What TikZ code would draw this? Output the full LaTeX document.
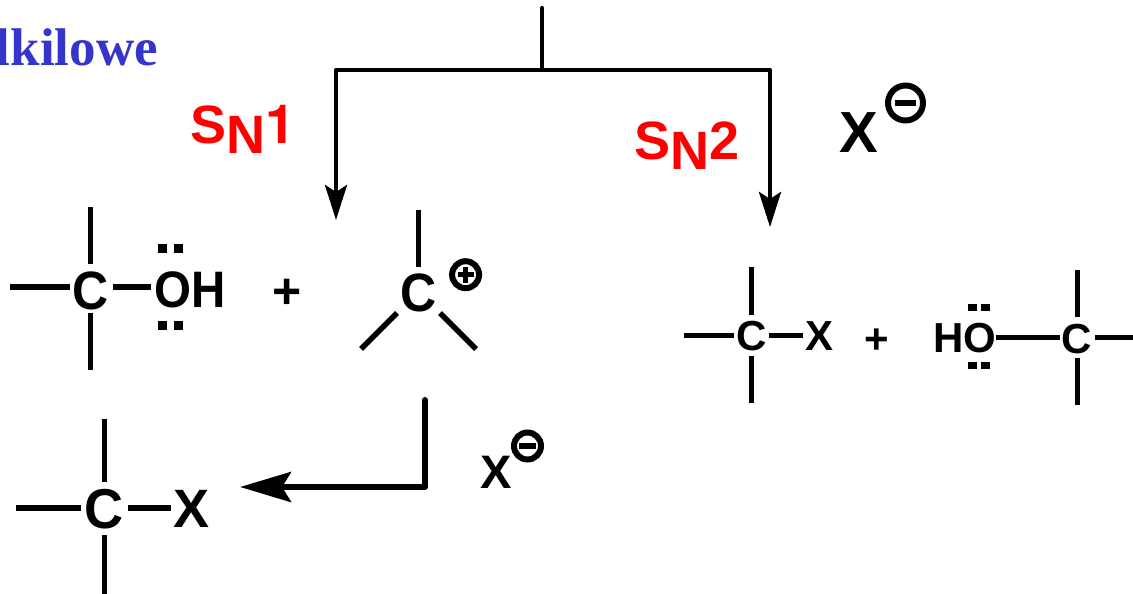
\documentclass[tikz,border=0pt]{standalone}
\usepackage{fontspec}
\setmainfont{Liberation Sans}
\newfontfamily\serifface{Liberation Serif}
\newfontfamily\heros{TeX Gyre Heros}
\usetikzlibrary{arrows.meta}
\definecolor{titleblue}{HTML}{3535CC}
\tikzset{
  x=1pt,y=1pt,
  atomL/.style={inner sep=0pt,font=\fontsize{50}{50}\selectfont\bfseries},
  atomB/.style={inner sep=0pt,font=\fontsize{54}{54}\selectfont\bfseries},
  atomM/.style={inner sep=0pt,font=\fontsize{47}{47}\selectfont\bfseries},
  atomXL/.style={inner sep=0pt,font=\fontsize{58}{58}\selectfont\bfseries},
  atomS/.style={inner sep=0pt,font=\fontsize{42}{42}\selectfont\bfseries},
  mech/.style={inner sep=0pt,anchor=base west,text=red,font=\fontsize{54}{54}\selectfont\bfseries},
  bond/.style={line width=5.5pt,line cap=butt},
  bondS/.style={line width=5pt,line cap=butt},
  thin arrow/.style={line width=4.3pt,line cap=round,line join=round},
  thick arrow/.style={line width=6pt,line cap=round,line join=round},
  lonedot/.style={fill=black,inner sep=0pt,minimum width=9pt,minimum height=8.5pt},
  ring/.style={circle,draw=black,inner sep=0pt},
  bar/.style={fill=black,inner sep=0pt}
}
\begin{document}
\begin{tikzpicture}
\useasboundingbox (0,0) rectangle (1133,-594);
\clip (0,0) rectangle (1133,-594);

% title fragment
\node[inner sep=0pt,anchor=base east,text=titleblue,font=\fontsize{53}{53}\selectfont\serifface\bfseries] (title) at (158,-66) {lkilowe};

% branching arrows
\coordinate (top) at (542,-8);
\coordinate (mid) at (542,-70);
\coordinate (left) at (336,-70);
\coordinate (right) at (770,-70);
\coordinate (ltip) at (336,-220);
\coordinate (rtip) at (770,-227);
\draw[thin arrow] (top) -- (mid);
\draw[thin arrow,-{Stealth[length=35pt,width=22pt,inset=7pt]}] (mid) -- (left) -- (ltip);
\draw[thin arrow,-{Stealth[length=35pt,width=22pt,inset=7pt]}] (mid) -- (right) -- (rtip);

\node[mech] (sn1) at (190,-143) {S\raisebox{-10pt}{N}{\heros\bfseries 1}};
\node[mech] (sn2) at (634,-159) {S\raisebox{-10pt}{N}2};

% X- large
\node[atomXL] (xa) at (858.5,-132.5) {X};
\node[ring,line width=6pt,minimum size=35pt] (ringa) at (905.5,-103) {};
\node[bar,minimum width=21pt,minimum height=6pt] (minusa) at (ringa) {};

% alcohol
\node[atomL,yscale=1.08] (c1) at (91,-291) {C};
\node[atomL,yscale=1.08,font=\fontsize{47.5}{47.5}\selectfont\bfseries] (oh) at (190,-290) {OH};
\coordinate (c1n) at (90.7,-207); \coordinate (c1ni) at (90.7,-264);
\coordinate (c1s) at (90.7,-370); \coordinate (c1si) at (90.7,-313);
\coordinate (c1w) at (10,-287);   \coordinate (c1wi) at (70,-287);
\coordinate (c1e) at (112.5,-287); \coordinate (ohw) at (151,-287);
\draw[bond] (c1n) -- (c1ni);
\draw[bond] (c1si) -- (c1s);
\draw[bond] (c1w) -- (c1wi);
\draw[bond] (c1e) -- (ohw);
\node[lonedot] (d1) at (162.5,-248.5) {};
\node[lonedot] (d2) at (178.5,-248.5) {};
\node[lonedot] (d3) at (162.5,-325.5) {};
\node[lonedot] (d4) at (178.5,-325.5) {};
\node[atomL] (plus1) at (287,-294) {+};

% carbocation
\node[atomL,yscale=1.08] (c2) at (418.6,-293) {C};
\coordinate (c2n) at (418.6,-210); \coordinate (c2ni) at (418.6,-267);
\coordinate (c2a) at (397,-313); \coordinate (c2ae) at (361,-349);
\coordinate (c2b) at (440,-313); \coordinate (c2be) at (476,-349);
\draw[bond] (c2n) -- (c2ni);
\draw[bond] (c2a) -- (c2ae);
\draw[bond] (c2b) -- (c2be);
\node[ring,line width=6pt,minimum size=27pt] (ringp) at (465.6,-274.7) {};
\node[bar,minimum width=16pt,minimum height=5pt] (plusa) at (ringp) {};
\node[bar,minimum width=5pt,minimum height=16pt] (plusb) at (ringp) {};

% bottom arrow
\coordinate (bs) at (425,-400);
\coordinate (bc) at (425,-487);
\coordinate (bt) at (240,-487);
\draw[thick arrow,-{Stealth[length=51pt,width=30pt,inset=9pt]}] (bs) -- (bc) -- (bt);
\node[atomM] (xb) at (496,-472) {X};
\node[ring,line width=6pt,minimum size=27pt] (ringb) at (527.5,-446) {};
\node[bar,minimum width=16.5pt,minimum height=5.5pt] (minusb) at (ringb) {};

% bottom product
\node[atomB,yscale=1.04] (c3) at (104,-509) {C};
\node[atomB] (x3) at (192,-509) {X};
\coordinate (c3n) at (104.3,-419); \coordinate (c3ni) at (104.3,-482);
\coordinate (c3s) at (104.3,-594); \coordinate (c3si) at (104.3,-535);
\coordinate (c3w) at (16,-508);   \coordinate (c3wi) at (81,-508);
\coordinate (c3e) at (127.5,-508); \coordinate (x3w) at (171,-508);
\draw[bond] (c3n) -- (c3ni);
\draw[bond] (c3si) -- (c3s);
\draw[bond] (c3w) -- (c3wi);
\draw[bond] (c3e) -- (x3w);

% right: alkyl halide
\node[atomS] (c4) at (751.5,-336) {C};
\node[atomS] (x4) at (819,-335.6) {X};
\coordinate (c4n) at (751.5,-267); \coordinate (c4ni) at (751.5,-315);
\coordinate (c4s) at (751.5,-403); \coordinate (c4si) at (751.5,-356);
\coordinate (c4w) at (684,-335);   \coordinate (c4wi) at (733.6,-335);
\coordinate (c4e) at (769.4,-335); \coordinate (x4w) at (803,-335);
\draw[bondS] (c4n) -- (c4ni);
\draw[bondS] (c4si) -- (c4s);
\draw[bondS] (c4w) -- (c4wi);
\draw[bondS] (c4e) -- (x4w);
\node[atomS] (plus2) at (877,-341.5) {+};

% right: alcohol
\node[atomS] (ho) at (964.6,-338) {HO};
\node[atomS] (c5) at (1077,-339) {C};
\coordinate (hoe) at (996,-337); \coordinate (c5wi) at (1059.6,-337);
\coordinate (c5n) at (1077,-270); \coordinate (c5ni) at (1077,-317);
\coordinate (c5s) at (1077,-405); \coordinate (c5si) at (1077,-358);
\coordinate (c5e) at (1095.4,-337); \coordinate (c5ee) at (1133,-337);
\draw[bondS] (hoe) -- (c5wi);
\draw[bondS] (c5n) -- (c5ni);
\draw[bondS] (c5si) -- (c5s);
\draw[bondS] (c5e) -- (c5ee);
\node[lonedot,minimum width=9pt,minimum height=7pt] (d5) at (972.8,-307.5) {};
\node[lonedot,minimum width=9pt,minimum height=7pt] (d6) at (985.3,-307.5) {};
\node[lonedot,minimum width=9pt,minimum height=7pt] (d7) at (972.8,-365.5) {};
\node[lonedot,minimum width=9pt,minimum height=7pt] (d8) at (985.3,-365.5) {};
\end{tikzpicture}
\end{document}
